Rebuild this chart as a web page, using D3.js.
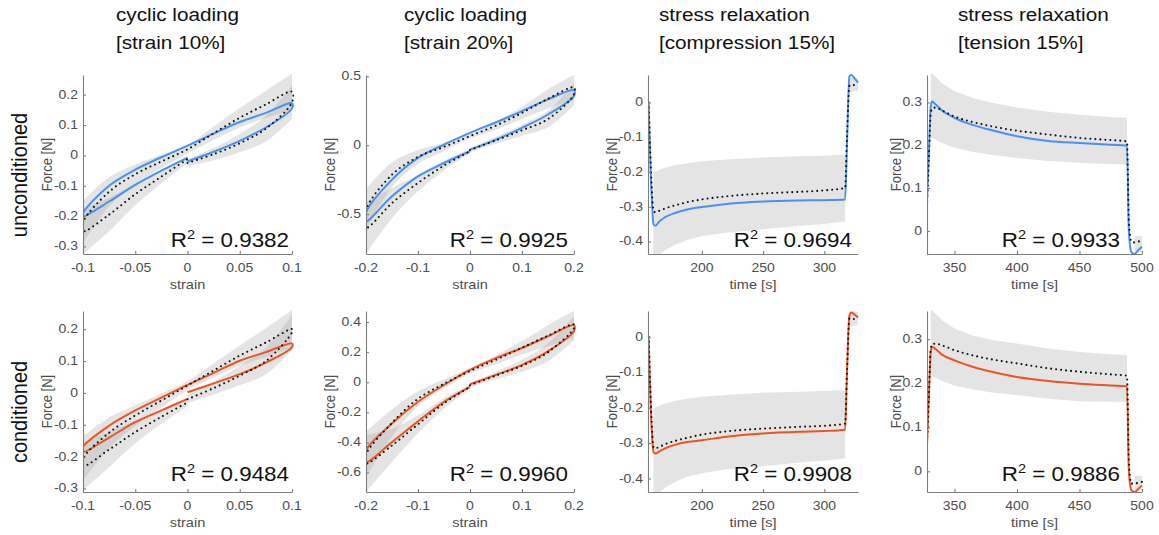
<!DOCTYPE html>
<html>
<head>
<meta charset="utf-8">
<script src="https://cdn.jsdelivr.net/npm/d3@7"></script>
<style>
body { margin: 0; background: #fff; }
svg { display: block; font-family: "Liberation Sans", Arial, sans-serif; }
</style>
</head>
<body>
<svg id="fig" width="1159" height="535"></svg>
<script>
/* ---- data ---- */
var titles = [["cyclic loading", "[strain 10%]"], ["cyclic loading", "[strain 20%]"],
              ["stress relaxation", "[compression 15%]"], ["stress relaxation", "[tension 15%]"]];
var rowLabels = ["unconditioned", "conditioned"];
var r2Values = ["0.9382", "0.9925", "0.9694", "0.9933", "0.9484", "0.9960", "0.9908", "0.9886"];

// loop path: loading 0 -> max, unloading max -> min, loading min -> 0
var strainPath10 = [0, 0.025, 0.05, 0.075, 0.1, 0.1, 0.075, 0.05, 0.025, 0, -0.025, -0.05, -0.075, -0.1, -0.1, -0.075, -0.05, -0.025, 0];
var strainPath20 = [0, 0.05, 0.1, 0.15, 0.2, 0.2, 0.15, 0.1, 0.05, 0, -0.05, -0.1, -0.15, -0.2, -0.2, -0.15, -0.1, -0.05, 0];
var loopBranches = [[0, 5], [5, 14], [14, 19]];

var model1 = [-0.02, 0.012, 0.048, 0.092, 0.155, 0.172, 0.14, 0.11, 0.072, 0.032, -0.006, -0.047, -0.1, -0.19, -0.2, -0.152, -0.097, -0.05, -0.008];
var exp1   = [-0.025, 0.004, 0.04, 0.088, 0.175, 0.21, 0.168, 0.124, 0.073, 0.02, -0.02, -0.062, -0.12, -0.22, -0.25, -0.195, -0.128, -0.07, -0.012];
var sd1    = [0.012, 0.02, 0.03, 0.042, 0.055, 0.06, 0.045, 0.032, 0.022, 0.014, 0.022, 0.032, 0.048, 0.07, 0.075, 0.055, 0.036, 0.022, 0.012];

var model2 = [-0.032, 0.041, 0.126, 0.223, 0.357, 0.4, 0.333, 0.248, 0.167, 0.09, 0.005, -0.092, -0.25, -0.49, -0.553, -0.371, -0.226, -0.129, -0.044];
var exp2   = [-0.035, 0.036, 0.109, 0.19, 0.37, 0.42, 0.337, 0.235, 0.143, 0.066, -0.012, -0.085, -0.214, -0.47, -0.6, -0.42, -0.274, -0.148, -0.044];
var sd2    = [0.015, 0.025, 0.04, 0.06, 0.08, 0.09, 0.07, 0.045, 0.03, 0.018, 0.03, 0.05, 0.09, 0.15, 0.19, 0.11, 0.06, 0.035, 0.015];

var model5 = [0.002, 0.03, 0.059, 0.095, 0.143, 0.155, 0.128, 0.101, 0.063, 0.025, -0.015, -0.055, -0.103, -0.17, -0.185, -0.14, -0.092, -0.055, -0.019];
var exp5   = [-0.02, 0.015, 0.054, 0.1, 0.19, 0.2, 0.158, 0.117, 0.07, 0.023, -0.024, -0.071, -0.125, -0.206, -0.23, -0.178, -0.123, -0.075, -0.03];
var sd5    = [0.012, 0.02, 0.03, 0.042, 0.055, 0.06, 0.045, 0.032, 0.022, 0.014, 0.022, 0.032, 0.048, 0.07, 0.075, 0.055, 0.036, 0.022, 0.012];

var model6 = [-0.013, 0.049, 0.116, 0.206, 0.34, 0.38, 0.306, 0.228, 0.161, 0.083, -0.018, -0.13, -0.275, -0.454, -0.53, -0.398, -0.26, -0.13, -0.03];
var exp6   = [-0.02, 0.045, 0.11, 0.2, 0.36, 0.385, 0.31, 0.23, 0.15, 0.075, -0.01, -0.11, -0.27, -0.48, -0.54, -0.42, -0.28, -0.14, -0.03];
var sd6    = [0.015, 0.025, 0.04, 0.06, 0.08, 0.09, 0.07, 0.045, 0.03, 0.018, 0.03, 0.05, 0.09, 0.15, 0.19, 0.11, 0.06, 0.035, 0.015];

// stress relaxation, compression
var timeComp = [156.5, 159, 160.5, 162, 165, 170, 178, 188, 200, 220, 250, 280, 300, 317, 318.5, 320.5, 322, 325, 327.5];
var model3 = [0, -0.27, -0.35, -0.355, -0.343, -0.33, -0.318, -0.308, -0.301, -0.292, -0.285, -0.282, -0.281, -0.279, -0.12, 0.075, 0.079, 0.068, 0.057];
var exp3   = [0, -0.24, -0.312, -0.316, -0.312, -0.305, -0.296, -0.287, -0.279, -0.27, -0.262, -0.257, -0.253, -0.246, -0.1, 0.048, 0.05, 0.05, 0.05];
var hi3    = [null, null, -0.2, -0.198, -0.194, -0.188, -0.181, -0.175, -0.169, -0.164, -0.158, -0.155, -0.153, -0.15, null, 0.07, 0.072, 0.07, 0.07];
var lo3    = [null, null, -0.46, -0.45, -0.44, -0.425, -0.41, -0.396, -0.384, -0.375, -0.365, -0.355, -0.35, -0.342, null, 0.03, 0.03, 0.032, 0.032];

var model7 = [0, -0.26, -0.325, -0.329, -0.324, -0.315, -0.305, -0.297, -0.292, -0.282, -0.273, -0.268, -0.266, -0.262, -0.1, 0.06, 0.069, 0.062, 0.055];
var exp7   = [0, -0.24, -0.312, -0.315, -0.311, -0.303, -0.294, -0.285, -0.276, -0.267, -0.259, -0.254, -0.251, -0.245, -0.1, 0.052, 0.052, 0.05, 0.05];
var hi7    = [null, null, -0.202, -0.2, -0.195, -0.188, -0.181, -0.175, -0.169, -0.164, -0.158, -0.155, -0.153, -0.151, null, 0.07, 0.072, 0.07, 0.07];
var lo7    = [null, null, -0.46, -0.45, -0.44, -0.425, -0.41, -0.395, -0.385, -0.374, -0.365, -0.355, -0.35, -0.343, null, 0.028, 0.03, 0.032, 0.032];

// stress relaxation, tension
var timeTens = [327.8, 329.5, 331, 332, 335, 340, 350, 365, 380, 400, 425, 450, 475, 488, 489.5, 491.5, 494, 497, 500];
var model4 = [0.058, 0.18, 0.29, 0.302, 0.295, 0.281, 0.264, 0.247, 0.235, 0.221, 0.21, 0.205, 0.201, 0.199, 0.0, -0.05, -0.054, -0.045, -0.037];
var exp4   = [0.047, 0.17, 0.275, 0.285, 0.288, 0.281, 0.267, 0.254, 0.244, 0.234, 0.225, 0.217, 0.212, 0.209, 0.02, -0.025, -0.027, -0.025, -0.023];
var hi4    = [null, null, 0.37, 0.368, 0.36, 0.345, 0.326, 0.31, 0.299, 0.288, 0.278, 0.271, 0.266, 0.264, null, null, -0.012, -0.012, -0.012];
var lo4    = [null, null, 0.218, 0.217, 0.212, 0.205, 0.194, 0.184, 0.177, 0.17, 0.163, 0.159, 0.156, 0.155, null, null, -0.05, -0.05, -0.05];

var model8 = [0.048, 0.17, 0.272, 0.283, 0.277, 0.265, 0.252, 0.237, 0.226, 0.214, 0.205, 0.199, 0.195, 0.193, 0.0, -0.043, -0.047, -0.04, -0.032];
var exp8   = [0.044, 0.17, 0.278, 0.288, 0.29, 0.286, 0.275, 0.263, 0.254, 0.245, 0.234, 0.226, 0.22, 0.217, 0.02, -0.028, -0.028, -0.026, -0.024];
var hi8    = [null, null, 0.37, 0.366, 0.358, 0.343, 0.324, 0.308, 0.298, 0.29, 0.279, 0.271, 0.266, 0.264, null, null, -0.01, -0.01, -0.01];
var lo8    = [null, null, 0.218, 0.217, 0.212, 0.205, 0.195, 0.186, 0.179, 0.173, 0.165, 0.159, 0.158, 0.158, null, null, -0.043, -0.043, -0.043];

// tick values
var strainTicks10 = [-0.1, -0.05, 0, 0.05, 0.1];
var strainTicks20 = [-0.2, -0.1, 0, 0.1, 0.2];
var timeTicksComp = [200, 250, 300];
var timeTicksTens = [350, 400, 450, 500];
var forceTicks1 = [-0.3, -0.2, -0.1, 0, 0.1, 0.2];
var forceTicks2 = [-0.5, 0, 0.5];
var forceTicksRelax = [-0.4, -0.3, -0.2, -0.1, 0];
var forceTicksTens = [0, 0.1, 0.2, 0.3];
var forceTicks6 = [-0.6, -0.4, -0.2, 0, 0.2, 0.4];

/* ---- layout ---- */
var blue = "#4a8ff2", orange = "#ee5322";
var SX = 1.12;   // the source figure is a bit wider than tall
var boxX = [[83, 292], [366, 574], [648, 858], [927, 1142]];
var boxY = [[75, 254], [311, 492]];
var titleX = [116, 404, 659, 958];
var r2Right = [289, 568, 852, 1120];
var ylabX = [52, 335, 617, 901];

var panels = [
	{r: 0, c: 0, type: "loop", x: strainPath10, m: model1, e: exp1, sd: sd1, xd: [-0.1, 0.1], yd: [-0.325, 0.265], xt: strainTicks10, yt: forceTicks1, xl: "strain", col: blue},
	{r: 0, c: 1, type: "loop", x: strainPath20, m: model2, e: exp2, sd: sd2, xd: [-0.2, 0.2], yd: [-0.79, 0.51], xt: strainTicks20, yt: forceTicks2, xl: "strain", col: blue},
	{r: 0, c: 2, type: "relax", x: timeComp, m: model3, e: exp3, lo: lo3, hi: hi3, xd: [156, 327.5], yd: [-0.436, 0.079], xt: timeTicksComp, yt: forceTicksRelax, xl: "time [s]", col: blue},
	{r: 0, c: 3, type: "relax", x: timeTens, m: model4, e: exp4, lo: lo4, hi: hi4, xd: [328, 500], yd: [-0.054, 0.364], xt: timeTicksTens, yt: forceTicksTens, xl: "time [s]", col: blue},
	{r: 1, c: 0, type: "loop", x: strainPath10, m: model5, e: exp5, sd: sd5, xd: [-0.1, 0.1], yd: [-0.311, 0.257], xt: strainTicks10, yt: forceTicks1, xl: "strain", col: orange},
	{r: 1, c: 1, type: "loop", x: strainPath20, m: model6, e: exp6, sd: sd6, xd: [-0.2, 0.2], yd: [-0.73, 0.474], xt: strainTicks20, yt: forceTicks6, xl: "strain", col: orange},
	{r: 1, c: 2, type: "relax", x: timeComp, m: model7, e: exp7, lo: lo7, hi: hi7, xd: [156, 327.5], yd: [-0.438, 0.073], xt: timeTicksComp, yt: forceTicksRelax, xl: "time [s]", col: orange},
	{r: 1, c: 3, type: "relax", x: timeTens, m: model8, e: exp8, lo: lo8, hi: hi8, xd: [328, 500], yd: [-0.047, 0.364], xt: timeTicksTens, yt: forceTicksTens, xl: "time [s]", col: orange}
];

var svg = d3.select("#fig");
var defs = svg.append("defs");

/* helper: text with the slight horizontal stretch of the source */
function label(parent, x, y, s, size, anchor, rotated) {
	var t = parent.append("text")
		.attr("transform", rotated
			? `translate(${x},${y}) rotate(-90) scale(1,${SX})`
			: `translate(${x},${y}) scale(${SX},1)`)
		.attr("text-anchor", anchor || "start")
		.style("font-size", size + "px");
	if (s !== null) t.text(s);
	return t;
}

function fmt(v) {
	return String(+v.toFixed(3));
}

// column titles
titles.forEach(function(t, c) {
	label(svg, titleX[c], 21, t[0], 18.5, "start").style("fill", "#111");
	label(svg, titleX[c], 49, t[1], 18.5, "start").style("fill", "#111");
});

// row labels
label(svg, 27, 175, rowLabels[0], 20, "middle", true).style("fill", "#111");
label(svg, 27, 412, rowLabels[1], 20, "middle", true).style("fill", "#111");

panels.forEach(function(p, k) {
	var x0 = boxX[p.c][0], x1 = boxX[p.c][1],
	    y0 = boxY[p.r][0], y1 = boxY[p.r][1];

	var x = d3.scaleLinear().domain(p.xd).range([x0, x1]),
	    y = d3.scaleLinear().domain(p.yd).range([y1, y0]);

	defs.append("clipPath").attr("id", "clip" + k)
		.append("rect")
		.attr("x", x0).attr("y", y0 - 1)
		.attr("width", x1 - x0 + 2).attr("height", y1 - y0 + 1);

	var g = svg.append("g").attr("clip-path", `url(#clip${k})`);

	var pts = p.x.map(function(v, i) {
		return {
			x: v, m: p.m[i], e: p.e[i],
			lo: p.type === "loop" ? p.e[i] - p.sd[i] : p.lo[i],
			hi: p.type === "loop" ? p.e[i] + p.sd[i] : p.hi[i]
		};
	});

	var band = d3.area()
		.defined(function(d) { return d.lo !== null && d.hi !== null; })
		.x(function(d) { return x(d.x); })
		.y0(function(d) { return y(d.lo); })
		.y1(function(d) { return y(d.hi); });

	var curve = p.type === "loop" ? d3.curveCatmullRom.alpha(0.5) : d3.curveMonotoneX;
	if (p.type === "loop") band.curve(d3.curveCatmullRom.alpha(0.5));

	var bandParts = p.type === "loop"
		? loopBranches.map(function(b) { return pts.slice(b[0], b[1]); })
		: [pts];

	bandParts.forEach(function(part) {
		g.append("path")
			.attr("d", band(part))
			.style("fill", "#a6a6a6")
			.style("fill-opacity", 0.3)
			.style("stroke", "none");
	});

	g.append("path")
		.attr("d", d3.line().curve(curve)
			.x(function(d) { return x(d.x); })
			.y(function(d) { return y(d.m); })(pts))
		.style("fill", "none")
		.style("stroke", p.col)
		.style("stroke-width", 2);

	g.append("path")
		.attr("d", d3.line().curve(curve)
			.x(function(d) { return x(d.x); })
			.y(function(d) { return y(d.e); })(pts))
		.style("fill", "none")
		.style("stroke", "#111")
		.style("stroke-width", 2.1)
		.style("stroke-linecap", "round")
		.style("stroke-dasharray", "0 5");

	// axes (ticks point inward, labels drawn separately)
	var ax = svg.append("g")
		.attr("transform", `translate(0,${y1})`)
		.call(d3.axisBottom(x).tickValues(p.xt).tickSize(-3).tickSizeOuter(0).tickFormat(""));
	var ay = svg.append("g")
		.attr("transform", `translate(${x0},0)`)
		.call(d3.axisLeft(y).tickValues(p.yt).tickSize(-3).tickSizeOuter(0).tickFormat(""));
	[ax, ay].forEach(function(a) {
		a.selectAll("path, line").style("stroke", "#7d7d7d").style("stroke-width", 1.1);
	});

	p.xt.forEach(function(v) {
		label(svg, x(v), y1 + 18, fmt(v), 12.5, "middle").style("fill", "#4d4d4d");
	});
	p.yt.forEach(function(v) {
		label(svg, x0 - 5, y(v) + 4, fmt(v), 12.5, "end").style("fill", "#4d4d4d");
	});

	label(svg, (x0 + x1) / 2, y1 + 35, p.xl, 13, "middle").style("fill", "#4d4d4d");
	label(svg, ylabX[p.c], (y0 + y1) / 2, "Force [N]", 13, "middle", true).style("fill", "#4d4d4d");

	var r2 = label(svg, r2Right[p.c], p.r === 0 ? 247 : 481, null, 20, "end").style("fill", "#111");
	r2.append("tspan").text("R");
	r2.append("tspan").attr("dy", -8).style("font-size", "13px").text("2");
	r2.append("tspan").attr("dy", 8).text(" = " + r2Values[k]);
});
</script>
</body>
</html>
